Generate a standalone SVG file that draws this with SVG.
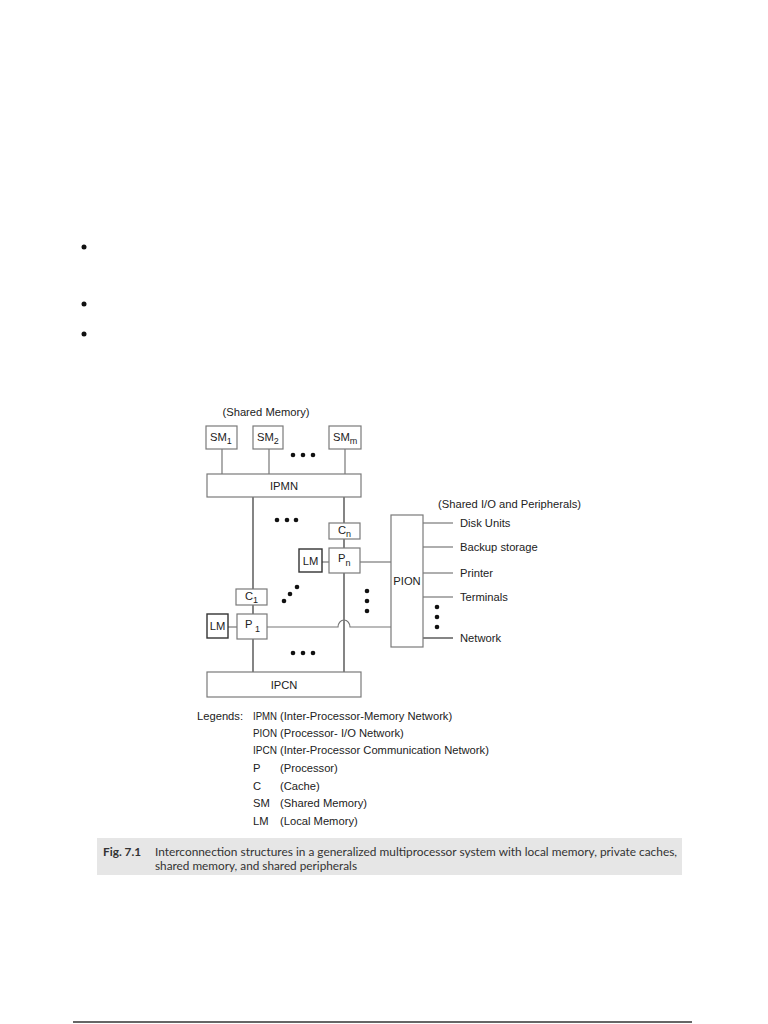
<svg xmlns="http://www.w3.org/2000/svg" width="768" height="1024" viewBox="0 0 768 1024">
<style>
.box{fill:#fff;stroke:#7a7a7a;stroke-width:1.2}
.lm{fill:#fff;stroke:#333;stroke-width:1.4}
.t{font-family:"Liberation Sans",Arial,sans-serif;font-size:11.2px;fill:#222}
.c{text-anchor:middle}
.ln{stroke:#333;stroke-width:1.2;fill:none}
.lg{stroke:#777;stroke-width:1.2;fill:none}
.cap{font-family:Lato,"Open Sans",sans-serif;font-size:11.8px;fill:#333}
.dot{fill:#111}
.sub{font-size:9px}
</style>
<rect width="768" height="1024" fill="#fff"/>
<g id="bullets" class="dot">
<circle cx="84" cy="247" r="2.5"/><circle cx="84" cy="304" r="2.5"/><circle cx="84" cy="334" r="2.5"/>
</g>
<text class="t" x="266" y="416" text-anchor="middle">(Shared Memory)</text>
<text class="t" x="438" y="508">(Shared I/O and Peripherals)</text>
<g id="connectors">
<line class="lg" x1="222" y1="449" x2="222" y2="474"/>
<line class="lg" x1="269" y1="449" x2="269" y2="474"/>
<line class="lg" x1="345" y1="449" x2="345" y2="474"/>
<line class="ln" x1="253" y1="497" x2="253" y2="589"/>
<line class="ln" x1="253" y1="605" x2="253" y2="614"/>
<line class="ln" x1="253" y1="639" x2="253" y2="672"/>
<line class="ln" x1="344" y1="497" x2="344" y2="523"/>
<line class="ln" x1="344" y1="539" x2="344" y2="548"/>
<line class="ln" x1="344" y1="573" x2="344" y2="672"/>
<line class="lg" x1="322" y1="562" x2="329" y2="562"/>
<line class="lg" x1="360" y1="562" x2="391" y2="562"/>
<line class="lg" x1="228" y1="627" x2="237" y2="627"/>
<path class="lg" d="M267 627 H338 A6 7 0 0 1 350 627 H391"/>
<line class="lg" x1="423" y1="523" x2="453" y2="523"/>
<line class="lg" x1="423" y1="547" x2="453" y2="547"/>
<line class="lg" x1="423" y1="573" x2="453" y2="573"/>
<line class="lg" x1="423" y1="597" x2="453" y2="597"/>
<line class="ln" x1="423" y1="638" x2="453" y2="638" stroke="#111"/>
</g>
<g id="SM1"><rect class="box" x="206" y="426" width="31" height="23"/><text class="t" x="210" y="441">SM<tspan class="sub" dy="3">1</tspan></text></g>
<g id="SM2"><rect class="box" x="253" y="426" width="30" height="23"/><text class="t" x="257" y="441">SM<tspan class="sub" dy="3">2</tspan></text></g>
<g id="SMm"><rect class="box" x="329" y="426" width="32" height="23"/><text class="t" x="333" y="441">SM<tspan class="sub" dy="3">m</tspan></text></g>
<g id="IPMN"><rect class="box" x="207" y="474" width="154" height="23"/><text class="t c" x="284" y="490">IPMN</text></g>
<g id="Cn"><rect class="box" x="329" y="523" width="31" height="16"/><text class="t" x="338" y="534">C<tspan class="sub" dy="3">n</tspan></text></g>
<g id="Pn"><rect class="box" x="329" y="548" width="31" height="25"/><text class="t" x="338" y="562">P<tspan class="sub" dy="4">n</tspan></text></g>
<g id="LMn"><rect class="lm" x="299" y="549" width="23" height="23"/><text class="t c" x="310.5" y="565">LM</text></g>
<g id="C1"><rect class="box" x="236" y="589" width="31" height="16"/><text class="t" x="245" y="600">C<tspan class="sub" dy="3">1</tspan></text></g>
<g id="P1"><rect class="box" x="237" y="614" width="30" height="25"/><text class="t" x="245" y="628">P<tspan class="sub" dy="4"> 1</tspan></text></g>
<g id="LM1"><rect class="lm" x="207" y="614" width="21" height="24"/><text class="t c" x="217.5" y="630">LM</text></g>
<g id="IPCN"><rect class="box" x="207" y="672" width="154" height="25"/><text class="t c" x="284" y="689">IPCN</text></g>
<g id="PION"><rect class="box" x="391" y="515" width="32" height="132" stroke="#333"/><text class="t c" x="407" y="585">PION</text></g>
<g id="peripherals">
<text class="t" x="460" y="527">Disk Units</text>
<text class="t" x="460" y="551">Backup storage</text>
<text class="t" x="460" y="577">Printer</text>
<text class="t" x="460" y="601">Terminals</text>
<text class="t" x="460" y="642">Network</text>
</g>
<g id="dots" class="dot">
<circle cx="293" cy="455" r="2.3"/><circle cx="303" cy="455" r="2.3"/><circle cx="313" cy="455" r="2.3"/>
<circle cx="277" cy="520" r="2.3"/><circle cx="287" cy="520" r="2.3"/><circle cx="296" cy="520" r="2.3"/>
<circle cx="297" cy="587" r="2.3"/><circle cx="290" cy="594" r="2.3"/><circle cx="284" cy="601" r="2.3"/>
<circle cx="367" cy="591" r="2.3"/><circle cx="367" cy="601" r="2.3"/><circle cx="367" cy="611" r="2.3"/>
<circle cx="437" cy="607" r="2.3"/><circle cx="437" cy="617" r="2.3"/><circle cx="437" cy="627" r="2.3"/>
<circle cx="293" cy="653" r="2.3"/><circle cx="303" cy="653" r="2.3"/><circle cx="313" cy="653" r="2.3"/>
</g>
<g id="legend" class="t">
<text x="197" y="720">Legends:</text>
<text x="253" y="720" textLength="24" lengthAdjust="spacingAndGlyphs">IPMN</text><text x="280" y="720">(Inter-Processor-Memory Network)</text>
<text x="253" y="737" textLength="24" lengthAdjust="spacingAndGlyphs">PION</text><text x="280" y="737">(Processor- I/O Network)</text>
<text x="253" y="754" textLength="24" lengthAdjust="spacingAndGlyphs">IPCN</text><text x="280" y="754">(Inter-Processor Communication Network)</text>
<text x="253" y="772">P</text><text x="280" y="772">(Processor)</text>
<text x="253" y="790">C</text><text x="280" y="790">(Cache)</text>
<text x="253" y="807">SM</text><text x="280" y="807">(Shared Memory)</text>
<text x="253" y="825">LM</text><text x="280" y="825">(Local Memory)</text>
</g>
<g id="caption">
<rect x="97" y="838" width="585" height="37" fill="#e6e6e6"/>
<text class="cap" x="103" y="856" font-weight="bold" fill="#222">Fig. 7.1</text>
<text class="cap" x="155" y="856" textLength="522" lengthAdjust="spacingAndGlyphs">Interconnection structures in a generalized multiprocessor system with local memory, private caches,</text>
<text class="cap" x="155" y="870" textLength="202" lengthAdjust="spacingAndGlyphs">shared memory, and shared peripherals</text>
</g>
<line x1="73" y1="1022" x2="692" y2="1022" stroke="#333" stroke-width="1.3"/>
</svg>
